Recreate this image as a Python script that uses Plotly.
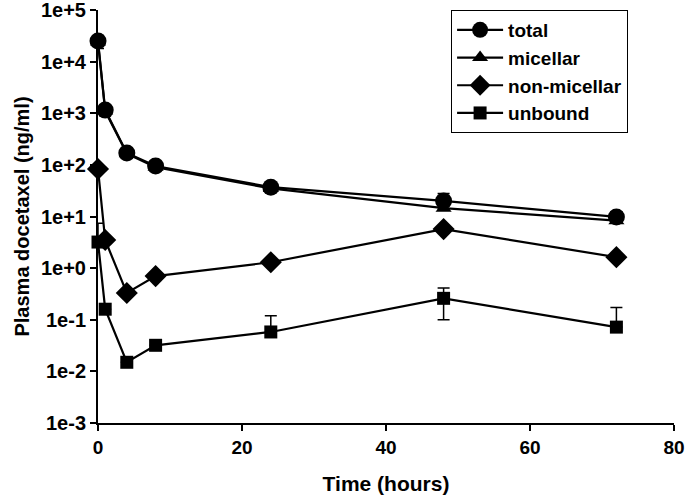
import plotly.graph_objects as go

times = [0, 1, 4, 8, 24, 48, 72]

total = [25000, 1150, 170, 95, 37, 20, 9.8]
total_err_plus = [7000, 150, 20, 20, 4, 8, 2.5]
total_err_minus = [7000, 150, 20, 15, 4, 6, 2]

micellar = [24000, 1100, 165, 90, 35, 14.5, 8.3]

nonmicellar = [83, 3.5, 0.33, 0.70, 1.3, 5.7, 1.63]

unbound = [3.2, 0.16, 0.015, 0.032, 0.058, 0.26, 0.072]
unbound_err_plus = [4.2, 0, 0, 0, 0.062, 0.15, 0.10]
unbound_err_minus = [0, 0, 0, 0, 0, 0.16, 0]

ytick_vals = [1e-3, 1e-2, 1e-1, 1, 10, 100, 1e3, 1e4, 1e5]
ytick_text = ["1e-3", "1e-2", "1e-1", "1e+0", "1e+1", "1e+2", "1e+3", "1e+4", "1e+5"]
xtick_vals = [0, 20, 40, 60, 80]

FONT = "Liberation Sans, Arial, sans-serif"
line = dict(color="black", width=2.2)

fig = go.Figure()
fig.add_trace(go.Scatter(
    x=times, y=total, name="total", mode="lines+markers",
    line=line, marker=dict(symbol="circle", size=17, color="black"),
    error_y=dict(type="data", array=total_err_plus, arrayminus=total_err_minus,
                 color="black", thickness=1.5, width=6),
    cliponaxis=False))
fig.add_trace(go.Scatter(
    x=times, y=micellar, name="micellar", mode="lines+markers",
    line=line, marker=dict(symbol="triangle-up", size=14, color="black"),
    cliponaxis=False))
fig.add_trace(go.Scatter(
    x=times, y=nonmicellar, name="non-micellar", mode="lines+markers",
    line=line, marker=dict(symbol="diamond", size=17, color="black"),
    cliponaxis=False))
fig.add_trace(go.Scatter(
    x=times, y=unbound, name="unbound", mode="lines+markers",
    line=line, marker=dict(symbol="square", size=13, color="black"),
    error_y=dict(type="data", array=unbound_err_plus, arrayminus=unbound_err_minus,
                 color="black", thickness=1.5, width=6),
    cliponaxis=False))

fig.update_layout(
    width=685, height=504,
    margin=dict(l=98, r=11, t=10, b=81),
    paper_bgcolor="white", plot_bgcolor="white",
    font=dict(family=FONT, size=19, color="black", weight="bold"),
    showlegend=True,
    legend=dict(x=0.613, y=1.0, xanchor="left", yanchor="top",
                bordercolor="black", borderwidth=1, bgcolor="white",
                font=dict(family=FONT, size=19, color="black", weight="bold"),
                tracegroupgap=0, itemwidth=46),
    xaxis=dict(range=[0, 80], tickvals=xtick_vals, showgrid=False, zeroline=False,
               showline=True, linecolor="black", linewidth=2, automargin=False,
               ticks="outside", ticklen=6, tickwidth=2, tickcolor="black",
               ticklabeloverflow="allow",
               tickfont=dict(family=FONT, size=19, weight="bold"),
               title=dict(text="Time (hours)", standoff=20,
                          font=dict(family=FONT, size=21, weight="bold"))),
    yaxis=dict(type="log", range=[-3, 5], tickvals=ytick_vals, ticktext=ytick_text,
               showgrid=False, zeroline=False, automargin=False,
               showline=True, linecolor="black", linewidth=2,
               ticks="outside", ticklen=6, tickwidth=2, tickcolor="black",
               ticklabeloverflow="allow",
               tickfont=dict(family=FONT, size=20, weight="bold"),
               title=dict(text="Plasma docetaxel (ng/ml)", standoff=6,
                          font=dict(family=FONT, size=20, weight="bold"))),
)

fig.write_html("out.html", config={"displayModeBar": False},
               post_script="document.body.style.margin='0';")
